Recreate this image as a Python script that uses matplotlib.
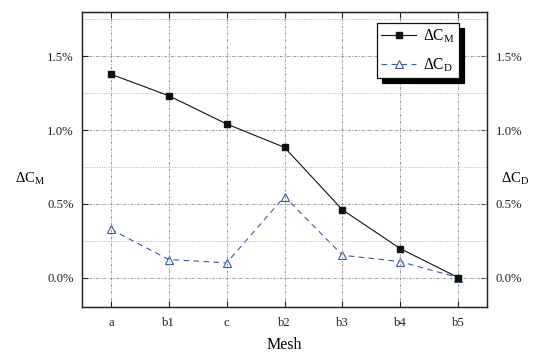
import matplotlib
matplotlib.use("Agg")
import matplotlib.pyplot as plt
from matplotlib.ticker import MultipleLocator, FuncFormatter

plt.rcParams['font.family'] = ['Liberation Serif', 'DejaVu Serif']
plt.rcParams['mathtext.fontset'] = 'custom'
plt.rcParams['mathtext.rm'] = 'Liberation Serif'
plt.rcParams['mathtext.it'] = 'Liberation Serif:italic'

meshes = ['a', 'b1', 'c', 'b2', 'b3', 'b4', 'b5']
delta_cm = [1.378, 1.232, 1.041, 0.882, 0.459, 0.196, 0.0]
delta_cd = [0.326, 0.122, 0.099, 0.549, 0.151, 0.108, 0.0]

fig = plt.figure(figsize=(5.56, 3.56), dpi=100)
ax = fig.add_axes([0.1475, 0.1376, 0.7285, 0.8287])
ax2 = ax.twinx()

x = list(range(len(meshes)))
blue = '#3c59a8'
l1, = ax.plot(x, delta_cm, color='#111111', lw=0.8, marker='s', ms=5,
              mfc='#111111', mec='#111111', label=r'$\Delta$C$_{\mathrm{M}}$', zorder=5)
l2, = ax2.plot(x, delta_cd, color=blue, lw=0.8, ls=(0, (5, 4)), marker='^', ms=6,
               mfc='white', mec=blue, mew=0.8, label=r'$\Delta$C$_{\mathrm{D}}$', zorder=4)

pct = FuncFormatter(lambda v, p: f'{v:.1f}%')
for a in (ax, ax2):
    a.set_ylim(-0.2, 1.8)
    a.yaxis.set_major_locator(MultipleLocator(0.5))
    a.yaxis.set_minor_locator(MultipleLocator(0.25))
    a.yaxis.set_major_formatter(pct)
    a.tick_params(axis='both', which='major', direction='in', length=4, width=0.8,
                  labelsize=9.2, colors='#222222')
    a.tick_params(axis='y', which='minor', length=0)
    for s in a.spines.values():
        s.set_linewidth(0.9)
        s.set_color('#222222')

ax.set_xlim(-0.5, 6.5)
ax.set_xticks(x)
ax.set_xticklabels(meshes)
ax.tick_params(axis='x', top=True, pad=7)
ax.tick_params(axis='y', pad=6)
ax2.tick_params(axis='y', pad=6)

ax.grid(True, which='major', axis='both', color='#9a9a9a', lw=0.7, ls=(0, (3, 1.5, 1, 1.5)))
ax.grid(True, which='minor', axis='y', color='#b0b0b0', lw=0.7, ls=(0, (1, 1.5)))
ax.set_axisbelow(True)

fig.text(284 / 556, 1 - 345 / 356, 'Mesh', fontsize=11.5, ha='center', va='center')
fig.text(30 / 556, 1 - 179 / 356, r'$\Delta$C$_{\mathrm{M}}$', fontsize=10.5, ha='center', va='center')
fig.text(515 / 556, 1 - 179 / 356, r'$\Delta$C$_{\mathrm{D}}$', fontsize=10.5, ha='center', va='center')

ax2.set_zorder(ax.get_zorder() - 1)
ax.patch.set_visible(False)

leg = ax.legend(handles=[l1, l2], loc='upper right', bbox_to_anchor=(0.931, 0.963),
                fontsize=11.2, frameon=True, fancybox=False,
                shadow={'color': 'black', 'alpha': 1, 'ox': 3.5, 'oy': -3.5},
                edgecolor='#111111', framealpha=1, handlelength=2.2, borderpad=0.3,
                labelspacing=0.72, handletextpad=0.45, borderaxespad=0.0)
leg.get_frame().set_linewidth(0.9)
leg.set_zorder(10)

fig.savefig('out.png', dpi=100)
